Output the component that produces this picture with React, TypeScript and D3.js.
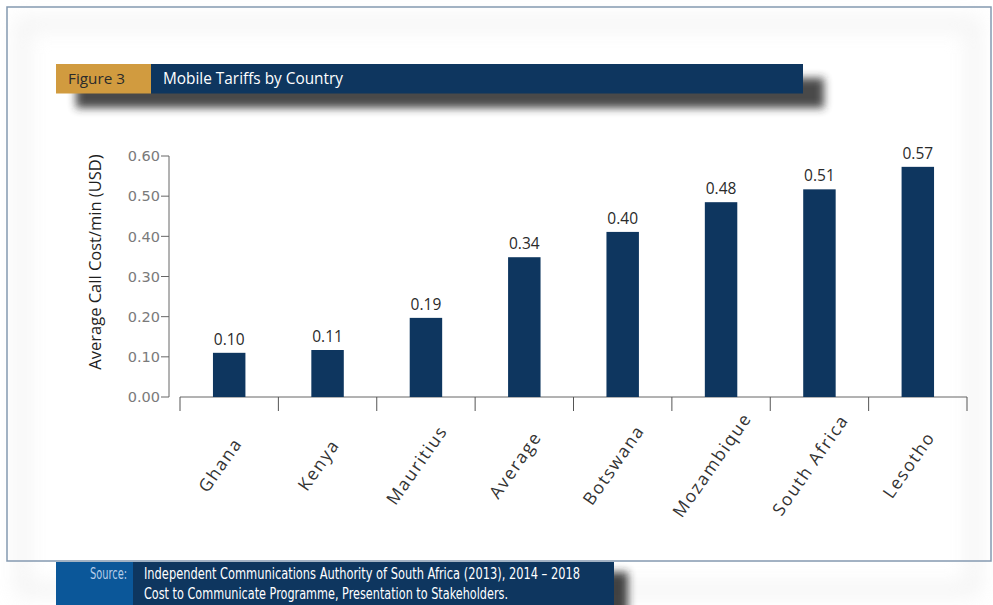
import React, { useEffect } from "react";
import * as d3 from "d3";

const categories = ["Ghana", "Kenya", "Mauritius", "Average", "Botswana", "Mozambique", "South Africa", "Lesotho"];
const values = [0.110, 0.117, 0.197, 0.348, 0.411, 0.485, 0.517, 0.573];
const valueLabels = ["0.10", "0.11", "0.19", "0.34", "0.40", "0.48", "0.51", "0.57"];
const yTicks = [0, 0.1, 0.2, 0.3, 0.4, 0.5, 0.6];
const figureLabel = "Figure 3";
const title = "Mobile Tariffs by Country";
const yTitle = "Average Call Cost/min (USD)";
const sourceLabel = "Source:";
const sourceLines = [
  "Independent Communications Authority of South Africa (2013), 2014 \u2013 2018",
  "Cost to Communicate Programme, Presentation to Stakeholders.",
];

const W = 993;
const H = 605;
const NAVY = "#0e365f";
const GOLD = "#d19b3f";
const SRC_BLUE = "#0b5799";

export default function App() {
  useEffect(() => {
    document.body.style.margin = "0";
  }, []);

  const x = d3.scaleBand<string>().domain(categories).range([180, 967]).padding(0);
  const y = d3.scaleLinear().domain([0, 0.6]).range([397, 156]);
  const bw = x.bandwidth() * 0.33;
  const fmt = d3.format(".2f");
  const boundaries = [...categories.map((c) => x(c) as number), 967];
  const condensed = "'DejaVu Sans Condensed', 'Liberation Sans Narrow', sans-serif";

  return (
    <svg width={W} height={H} viewBox={`0 0 ${W} ${H}`} style={{ display: "block", background: "#fff" }}>
      <defs>
        <filter id="glow" x="-10%" y="-10%" width="120%" height="120%">
          <feGaussianBlur stdDeviation="10" />
        </filter>
        <filter id="hdrShadow" x="-5%" y="-50%" width="115%" height="250%">
          <feGaussianBlur stdDeviation="4" />
        </filter>
      </defs>

      {/* soft inner panel glow */}
      <rect x={22} y={24} width={952} height={566} fill="none" stroke="#cfcfcf" strokeWidth={12} filter="url(#glow)" opacity={0.28} />

      {/* frame */}
      <rect x={7} y={7} width={984} height={554} fill="none" stroke="#8499b0" strokeWidth={1.5} />

      {/* header */}
      <rect x={76} y={78} width={748} height={30} fill="#2a2a2a" opacity={0.85} filter="url(#hdrShadow)" />
      <rect x={56} y={64} width={95} height={29.5} fill={GOLD} />
      <rect x={151} y={64} width={652} height={29.5} fill={NAVY} />
      <text x={68} y={84} fontFamily="'Open Sans', sans-serif" fontSize={15} fill="#2b2b2b" textLength={57} lengthAdjust="spacingAndGlyphs">{figureLabel}</text>
      <text x={163} y={84} fontFamily="'Open Sans', sans-serif" fontSize={15.5} fontWeight={500} fill="#fff" textLength={180} lengthAdjust="spacingAndGlyphs">{title}</text>

      {/* y axis */}
      <line x1={169} x2={169} y1={y(0.6)} y2={y(0)} stroke="#666" strokeWidth={1} />
      {yTicks.map((t) => (
        <g key={t}>
          <line x1={161} x2={169} y1={y(t)} y2={y(t)} stroke="#666" strokeWidth={1} />
          <text x={160} y={y(t)} dy="0.36em" textAnchor="end" fontFamily="'DejaVu Sans', Verdana, sans-serif" fontSize={14.5} fill="#7a7a7a">{fmt(t)}</text>
        </g>
      ))}
      <text transform={`translate(101,${262}) rotate(-90)`} textAnchor="middle" fontFamily="'Open Sans', sans-serif" fontSize={16.5} fill="#1e1e1e">{yTitle}</text>

      {/* x axis */}
      <line x1={180} x2={967} y1={397} y2={397} stroke="#666" strokeWidth={1} />
      {boundaries.map((b, i) => (
        <line key={i} x1={b} x2={b} y1={397} y2={411} stroke="#555" strokeWidth={1} />
      ))}

      {/* bars */}
      {categories.map((c, i) => {
        const cx = (x(c) as number) + x.bandwidth() / 2;
        return (
          <g key={c}>
            <rect x={cx - bw / 2} y={y(values[i])} width={bw} height={y(0) - y(values[i])} fill={NAVY} />
            <text x={cx} y={y(values[i]) - 8} textAnchor="middle" fontFamily="'Open Sans', sans-serif" fontSize={15.5} fill="#2a2a2a">{valueLabels[i]}</text>
            <text transform={`translate(${cx - 9},${465}) rotate(-55)`} textAnchor="middle" dy="0.35em" fontFamily="'Open Sans', sans-serif" fontSize={17.5} letterSpacing={1.6} fill="#333">{c}</text>
          </g>
        );
      })}

      {/* source box */}
      <rect x={72} y={572} width={556} height={50} fill="#222" opacity={0.85} filter="url(#hdrShadow)" />
      <rect x={56} y={562} width={77} height={43} fill={SRC_BLUE} />
      <rect x={133} y={562} width={481} height={43} fill={NAVY} />
      <text x={127} y={579} textAnchor="end" fontFamily={condensed} fontSize={15} fill="#b7cde8" textLength={37} lengthAdjust="spacingAndGlyphs">{sourceLabel}</text>
      <text x={144} y={579} fontFamily={condensed} fontSize={15} fill="#fff" textLength={436} lengthAdjust="spacingAndGlyphs">{sourceLines[0]}</text>
      <text x={144} y={599} fontFamily={condensed} fontSize={15} fill="#fff" textLength={364} lengthAdjust="spacingAndGlyphs">{sourceLines[1]}</text>
    </svg>
  );
}
